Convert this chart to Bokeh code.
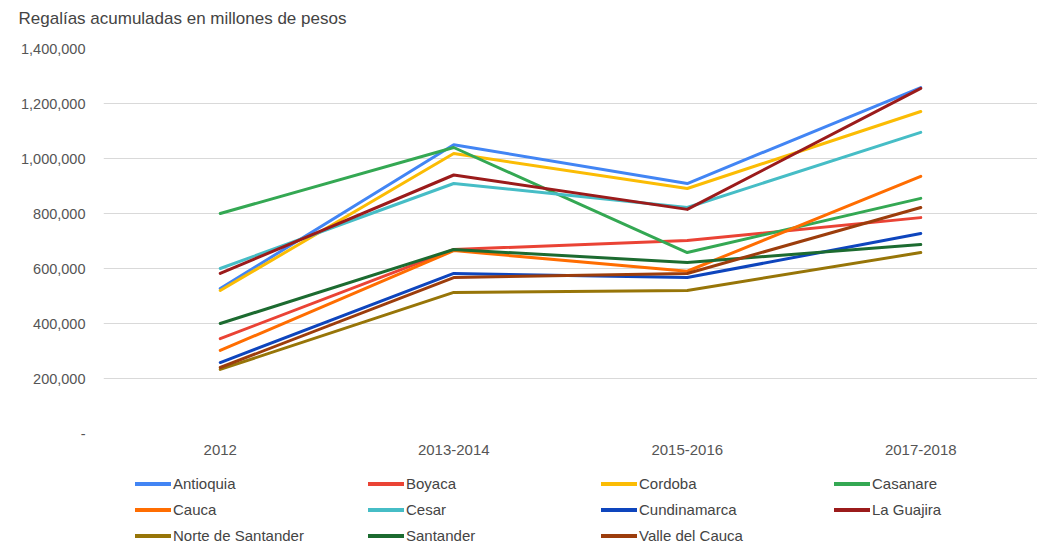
from bokeh.plotting import figure
from bokeh.models import Legend, LegendItem, NumeralTickFormatter, FactorRange, Range1d, Label
from bokeh.layouts import column
from bokeh.embed import file_html
from bokeh.resources import INLINE

periods = ["2012", "2013-2014", "2015-2016", "2017-2018"]

antioquia = [527000, 1050000, 909000, 1258000]
boyaca = [345000, 669000, 702000, 785000]
cordoba = [520000, 1018000, 891000, 1171000]
casanare = [800000, 1040000, 658000, 855000]
cauca = [302000, 665000, 590000, 935000]
cesar = [600000, 909000, 822000, 1095000]
cundinamarca = [258000, 582000, 567000, 727000]
la_guajira = [582000, 940000, 815000, 1255000]
norte_santander = [233000, 513000, 520000, 658000]
santander = [400000, 669000, 622000, 687000]
valle_cauca = [240000, 567000, 582000, 822000]

series = [
    ("Antioquia", antioquia, "#4285F4"),
    ("Boyaca", boyaca, "#EA4335"),
    ("Cordoba", cordoba, "#FBBC04"),
    ("Casanare", casanare, "#34A853"),
    ("Cauca", cauca, "#FF6D01"),
    ("Cesar", cesar, "#46BDC6"),
    ("Cundinamarca", cundinamarca, "#0E45BD"),
    ("La Guajira", la_guajira, "#9B1B1B"),
    ("Norte de Santander", norte_santander, "#977508"),
    ("Santander", santander, "#1C6B30"),
    ("Valle del Cauca", valle_cauca, "#9C3D0C"),
]

TITLE = "Regalías acumuladas en millones de pesos"
FONT = "Liberation Sans"

x_range = FactorRange(*periods, range_padding=0)
y_range = Range1d(0, 1400000)

# title strip
tf = figure(
    width=1037, height=30, x_range=Range1d(0, 1), y_range=Range1d(0, 1),
    x_axis_type=None, y_axis_type=None,
    output_backend="svg", toolbar_location=None, min_border=0,
)
tf.frame_align = False
tf.outline_line_color = None
tf.background_fill_color = "white"
tf.border_fill_color = "white"
tf.add_layout(Label(
    x=18, y=12, x_units="screen", y_units="screen", text=TITLE,
    text_font=FONT, text_font_size="17px", text_color="#444444",
    text_baseline="middle", text_align="left",
))

p = figure(
    width=1037, height=440,
    x_range=x_range, y_range=y_range,
    output_backend="svg", toolbar_location=None,
    min_border_left=103, min_border_right=0, min_border_top=18, min_border_bottom=37,
)
p.outline_line_color = None
p.background_fill_color = "white"
p.border_fill_color = "white"

p.xgrid.grid_line_color = None
p.ygrid.grid_line_color = "#d9d9d9"
p.ygrid.grid_line_width = 1
p.yaxis.ticker = [0, 200000, 400000, 600000, 800000, 1000000, 1200000, 1400000]
p.yaxis.formatter = NumeralTickFormatter(format="0,0")
p.yaxis.major_label_overrides = {0: "-"}

for ax in (p.xaxis[0], p.yaxis[0]):
    ax.axis_line_color = None
    ax.major_tick_line_color = None
    ax.minor_tick_line_color = None
    ax.major_label_text_font = FONT
    ax.major_label_text_color = "#555555"
p.xaxis.major_label_text_font_size = "15px"
p.yaxis.major_label_text_font_size = "14.5px"
p.yaxis.major_label_standoff = 12
p.xaxis.major_label_standoff = 5

for name, vals, col in series:
    p.line(periods, vals, line_color=col, line_width=3, line_cap="round", line_join="round")

# legend strip (shares the ranges; its lines are hidden, only the legend shows)
lg = figure(
    width=1037, height=84, x_range=x_range, y_range=y_range,
    x_axis_type=None, y_axis_type=None,
    output_backend="svg", toolbar_location=None,
    min_border=0,
)
lg.outline_line_color = None
lg.background_fill_color = "white"
lg.border_fill_color = "white"

items = []
for name, vals, col in series:
    r = lg.line(periods, vals, line_color=col, line_width=4, line_cap="round", visible=False)
    items.append(LegendItem(label=name, renderers=[r]))

legend = Legend(
    items=items, ncols=4, orientation="horizontal",
    location=(32, 8),
    glyph_width=36, glyph_height=21, label_width=190, label_height=21,
    label_standoff=2, spacing=5, padding=0, margin=0,
    border_line_color=None, background_fill_alpha=0,
    label_text_font=FONT, label_text_font_size="15px", label_text_color="#444444",
)
lg.add_layout(legend, "center")

layout = column(tf, p, lg, spacing=0)
open("out.html", "w").write(file_html(layout, INLINE))
